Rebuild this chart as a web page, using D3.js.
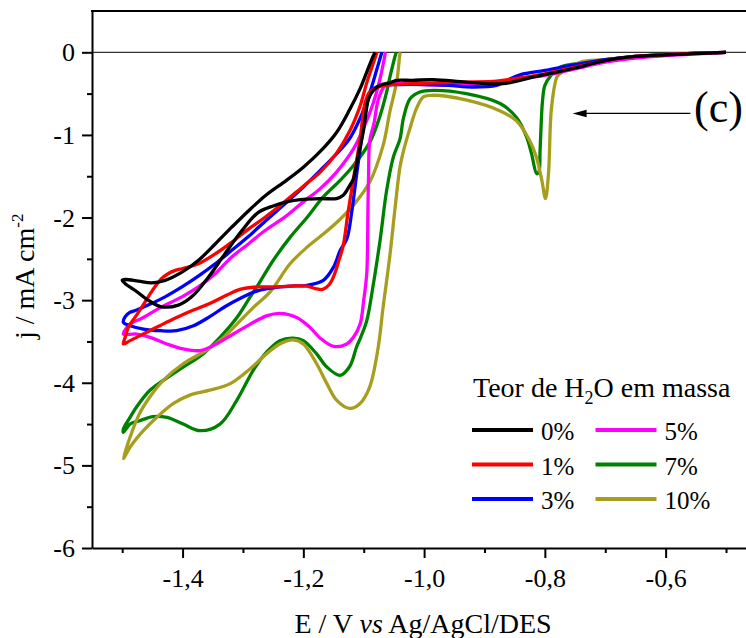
<!DOCTYPE html>
<html>
<head>
<meta charset="utf-8">
<script src="https://cdn.jsdelivr.net/npm/d3@7"></script>
<style>
body { margin: 0; background: #fff; }
svg text { font-family: "Liberation Serif", "Times New Roman", serif; fill: #000; }
</style>
</head>
<body>
<svg width="746" height="638"></svg>
<script>
// ---- data: [E (V), j (mA cm-2)] ----
var cv0 = [[-0.50,0.00],[-0.55,-0.015],[-0.60,-0.03],[-0.65,-0.05],[-0.70,-0.10],[-0.75,-0.19],[-0.78,-0.24],[-0.82,-0.30],[-0.87,-0.38],[-0.93,-0.36],[-0.985,-0.33],[-1.02,-0.34],[-1.045,-0.34],[-1.057,-0.37],[-1.073,-0.40],[-1.084,-0.46],[-1.092,-0.56],[-1.100,-0.93],[-1.109,-1.25],[-1.117,-1.53],[-1.123,-1.61],[-1.134,-1.73],[-1.145,-1.77],[-1.172,-1.77],[-1.200,-1.78],[-1.228,-1.81],[-1.250,-1.86],[-1.275,-1.94],[-1.302,-2.16],[-1.330,-2.44],[-1.357,-2.72],[-1.385,-2.96],[-1.407,-3.06],[-1.435,-3.08],[-1.457,-3.00],[-1.479,-2.88],[-1.495,-2.80],[-1.500,-2.76],
  [-1.495,-2.75],[-1.473,-2.77],[-1.451,-2.79],[-1.429,-2.76],[-1.401,-2.66],[-1.374,-2.52],[-1.346,-2.32],[-1.319,-2.12],[-1.291,-1.92],[-1.262,-1.73],[-1.228,-1.55],[-1.200,-1.39],[-1.172,-1.20],[-1.145,-0.97],[-1.123,-0.69],[-1.106,-0.44],[-1.095,-0.24],[-1.084,-0.04],[-1.081,0.00]];

var cv1 = [[-0.50,0.00],[-0.55,-0.01],[-0.60,-0.03],[-0.65,-0.05],[-0.70,-0.10],[-0.75,-0.18],[-0.80,-0.26],[-0.85,-0.32],[-0.88,-0.35],[-0.93,-0.36],[-0.98,-0.37],[-1.02,-0.38],[-1.05,-0.39],[-1.075,-0.42],[-1.09,-0.48],[-1.098,-0.62],[-1.106,-1.05],[-1.117,-1.53],[-1.126,-1.94],[-1.134,-2.34],[-1.142,-2.54],[-1.148,-2.68],[-1.157,-2.81],[-1.168,-2.87],[-1.180,-2.86],[-1.194,-2.83],[-1.222,-2.83],[-1.250,-2.84],[-1.277,-2.84],[-1.305,-2.87],[-1.330,-2.95],[-1.355,-3.04],[-1.382,-3.12],[-1.410,-3.21],[-1.438,-3.31],[-1.465,-3.41],[-1.487,-3.49],[-1.498,-3.53],
  [-1.495,-3.45],[-1.490,-3.33],[-1.478,-3.20],[-1.468,-3.09],[-1.456,-2.95],[-1.446,-2.84],[-1.435,-2.74],[-1.424,-2.68],[-1.412,-2.64],[-1.401,-2.62],[-1.374,-2.56],[-1.346,-2.44],[-1.319,-2.30],[-1.291,-2.14],[-1.264,-2.00],[-1.236,-1.84],[-1.200,-1.62],[-1.172,-1.45],[-1.145,-1.22],[-1.123,-0.95],[-1.106,-0.65],[-1.095,-0.37],[-1.084,-0.13],[-1.078,0.00]];

var cv3 = [[-0.50,0.00],[-0.55,-0.01],[-0.60,-0.03],[-0.65,-0.05],[-0.70,-0.09],[-0.75,-0.15],[-0.80,-0.22],[-0.84,-0.27],[-0.86,-0.33],[-0.88,-0.40],[-0.92,-0.42],[-0.96,-0.40],[-1.00,-0.39],[-1.04,-0.39],[-1.07,-0.40],[-1.085,-0.45],[-1.093,-0.58],[-1.101,-0.93],[-1.112,-1.49],[-1.120,-1.94],[-1.128,-2.26],[-1.139,-2.40],[-1.150,-2.60],[-1.167,-2.76],[-1.194,-2.82],[-1.222,-2.83],[-1.250,-2.85],[-1.277,-2.89],[-1.305,-2.98],[-1.330,-3.08],[-1.355,-3.20],[-1.382,-3.31],[-1.410,-3.37],[-1.437,-3.37],[-1.465,-3.35],[-1.487,-3.31],[-1.498,-3.27],
  [-1.495,-3.20],[-1.488,-3.15],[-1.476,-3.12],[-1.457,-3.06],[-1.429,-2.96],[-1.401,-2.84],[-1.374,-2.71],[-1.346,-2.56],[-1.319,-2.40],[-1.291,-2.23],[-1.264,-2.05],[-1.236,-1.87],[-1.200,-1.63],[-1.172,-1.43],[-1.145,-1.23],[-1.123,-1.04],[-1.106,-0.80],[-1.090,-0.49],[-1.078,-0.20],[-1.070,0.00]];

var cv5 = [[-0.50,0.00],[-0.55,-0.02],[-0.60,-0.04],[-0.65,-0.07],[-0.70,-0.12],[-0.75,-0.20],[-0.80,-0.28],[-0.85,-0.33],[-0.90,-0.38],[-0.95,-0.40],[-1.00,-0.39],[-1.04,-0.38],[-1.062,-0.38],[-1.075,-0.55],[-1.083,-0.86],[-1.090,-1.07],[-1.092,-1.50],[-1.093,-1.88],[-1.095,-2.68],[-1.100,-3.00],[-1.106,-3.29],[-1.117,-3.45],[-1.128,-3.53],[-1.150,-3.56],[-1.172,-3.46],[-1.189,-3.33],[-1.211,-3.21],[-1.239,-3.16],[-1.261,-3.19],[-1.288,-3.29],[-1.316,-3.41],[-1.344,-3.53],[-1.371,-3.61],[-1.399,-3.59],[-1.426,-3.53],[-1.454,-3.45],[-1.476,-3.41],[-1.498,-3.41],
  [-1.495,-3.36],[-1.487,-3.29],[-1.465,-3.21],[-1.437,-3.09],[-1.401,-2.96],[-1.374,-2.84],[-1.346,-2.68],[-1.319,-2.48],[-1.291,-2.32],[-1.264,-2.16],[-1.228,-1.98],[-1.200,-1.81],[-1.172,-1.65],[-1.145,-1.45],[-1.117,-1.17],[-1.101,-0.93],[-1.084,-0.61],[-1.073,-0.32],[-1.065,-0.04],[-1.064,0.00]];

var cv7 = [[-0.50,0.00],[-0.55,-0.01],[-0.60,-0.03],[-0.65,-0.05],[-0.70,-0.09],[-0.75,-0.14],[-0.775,-0.18],[-0.79,-0.28],[-0.80,-0.40],[-0.804,-0.60],[-0.806,-0.85],[-0.808,-1.20],[-0.810,-1.45],[-0.8135,-1.47],[-0.822,-1.23],[-0.830,-1.03],[-0.847,-0.79],[-0.874,-0.62],[-0.93,-0.50],[-0.985,-0.46],[-1.007,-0.48],[-1.023,-0.56],[-1.034,-0.79],[-1.040,-1.05],[-1.051,-1.27],[-1.062,-1.67],[-1.073,-2.28],[-1.085,-2.85],[-1.095,-3.25],[-1.105,-3.45],[-1.112,-3.57],[-1.123,-3.80],[-1.139,-3.91],[-1.161,-3.81],[-1.178,-3.65],[-1.200,-3.49],[-1.217,-3.46],[-1.239,-3.49],[-1.261,-3.63],[-1.283,-3.85],[-1.310,-4.21],[-1.338,-4.50],[-1.371,-4.58],[-1.399,-4.50],[-1.426,-4.42],[-1.449,-4.41],[-1.471,-4.46],[-1.487,-4.50],[-1.498,-4.60],
  [-1.498,-4.56],[-1.487,-4.42],[-1.476,-4.29],[-1.454,-4.09],[-1.432,-3.97],[-1.399,-3.81],[-1.366,-3.65],[-1.338,-3.45],[-1.310,-3.21],[-1.288,-2.96],[-1.277,-2.84],[-1.250,-2.52],[-1.222,-2.24],[-1.194,-2.00],[-1.167,-1.75],[-1.139,-1.55],[-1.117,-1.37],[-1.090,-1.09],[-1.073,-0.77],[-1.062,-0.48],[-1.056,-0.28],[-1.047,-0.02],[-1.046,0.00]];

var cv10 = [[-0.50,0.00],[-0.55,-0.01],[-0.60,-0.03],[-0.65,-0.05],[-0.70,-0.09],[-0.742,-0.12],[-0.775,-0.26],[-0.780,-0.30],[-0.789,-0.67],[-0.794,-1.47],[-0.799,-1.77],[-0.805,-1.55],[-0.814,-1.27],[-0.825,-1.07],[-0.847,-0.83],[-0.874,-0.71],[-0.929,-0.58],[-0.985,-0.52],[-1.001,-0.54],[-1.012,-0.67],[-1.023,-0.91],[-1.034,-1.19],[-1.040,-1.39],[-1.048,-1.88],[-1.057,-2.48],[-1.068,-3.09],[-1.076,-3.57],[-1.090,-4.05],[-1.106,-4.25],[-1.123,-4.31],[-1.145,-4.21],[-1.161,-4.01],[-1.178,-3.77],[-1.200,-3.53],[-1.217,-3.48],[-1.239,-3.53],[-1.261,-3.65],[-1.288,-3.83],[-1.321,-4.01],[-1.355,-4.09],[-1.388,-4.15],[-1.415,-4.25],[-1.443,-4.42],[-1.465,-4.58],[-1.487,-4.78],[-1.498,-4.92],
  [-1.487,-4.66],[-1.471,-4.37],[-1.454,-4.17],[-1.432,-3.97],[-1.399,-3.77],[-1.366,-3.63],[-1.338,-3.49],[-1.310,-3.29],[-1.283,-3.09],[-1.255,-2.90],[-1.222,-2.56],[-1.194,-2.36],[-1.167,-2.20],[-1.139,-2.02],[-1.117,-1.85],[-1.090,-1.57],[-1.068,-1.13],[-1.057,-0.73],[-1.045,-0.34],[-1.040,-0.02],[-1.039,0.00]];

var labels = ["0%", "1%", "3%", "5%", "7%", "10%"];
var colors = ["#000000", "#ff0000", "#0000ff", "#ff00ff", "#008000", "#a89e1e"];
var curves = [cv0, cv1, cv3, cv5, cv7, cv10];

var xMajor = [-1.4, -1.2, -1.0, -0.8, -0.6];
var xMinor = [-1.5, -1.3, -1.1, -0.9, -0.7, -0.5];
var yMajor = [-6, -5, -4, -3, -2, -1, 0];
var yMinor = [-5.5, -4.5, -3.5, -2.5, -1.5, -0.5];

// annotation arrow "(c)" in data units
var arrowFrom = [-0.559, -0.74], arrowTo = [-0.754, -0.74];

var svg = d3.select("svg");
var plotLeft = 92, plotTop = 11, plotBottom = 548;

var x = d3.scaleLinear().domain([-1.55, -0.45]).range([plotLeft, 756.2]);
var y = d3.scaleLinear().domain([-6, 0.5]).range([plotBottom, plotTop]);

// zero line
svg.append("line")
    .attr("x1", plotLeft).attr("x2", 746)
    .attr("y1", y(0)).attr("y2", y(0))
    .attr("stroke", "#333").attr("stroke-width", 1.2);

// curves, black last so it ends up on top
var line = d3.line()
    .x(function(d) { return x(d[0]); })
    .y(function(d) { return y(d[1]); })
    .curve(d3.curveCatmullRom.alpha(0.5));

var order = [4, 5, 3, 2, 1, 0];
svg.append("g").selectAll("path")
    .data(order)
  .enter().append("path")
    .attr("d", function(i) { return line(curves[i]); })
    .attr("fill", "none")
    .attr("stroke", function(i) { return colors[i]; })
    .attr("stroke-width", 3.3)
    .attr("stroke-linejoin", "round");

// axes
function fmtX(d) { return d.toFixed(1).replace(".", ","); }

var xAxis = svg.append("g").attr("transform", "translate(0," + plotBottom + ")")
    .call(d3.axisBottom(x).tickValues(xMajor).tickSize(10).tickSizeOuter(0).tickFormat(fmtX));
svg.append("g").attr("transform", "translate(0," + plotBottom + ")")
    .call(d3.axisBottom(x).tickValues(xMinor).tickSize(5).tickSizeOuter(0).tickFormat(""))
    .select(".domain").remove();

var yAxis = svg.append("g").attr("transform", "translate(" + plotLeft + ",0)")
    .call(d3.axisLeft(y).tickValues(yMajor).tickSize(10).tickSizeOuter(0).tickFormat(function(d) { return String(d); }));
svg.append("g").attr("transform", "translate(" + plotLeft + ",0)")
    .call(d3.axisLeft(y).tickValues(yMinor).tickSize(5).tickSizeOuter(0).tickFormat(""))
    .select(".domain").remove();

svg.selectAll(".tick line").attr("stroke", "#000").attr("stroke-width", 2);
svg.selectAll(".domain").attr("stroke", "#000").attr("stroke-width", 2);
xAxis.selectAll("text").attr("font-size", 26).attr("y", 39).attr("dy", 0)
    .style("font-family", "Liberation Serif");
yAxis.selectAll("text").attr("font-size", 26).attr("x", -17).attr("dy", "0.33em")
    .style("font-family", "Liberation Serif");

// top frame line
svg.append("line")
    .attr("x1", plotLeft - 1).attr("x2", 746)
    .attr("y1", plotTop).attr("y2", plotTop)
    .attr("stroke", "#000").attr("stroke-width", 2);

// axis titles
var xt = svg.append("text")
    .attr("x", 423).attr("y", 633)
    .attr("text-anchor", "middle").attr("font-size", 28);
xt.append("tspan").text("E / V ");
xt.append("tspan").attr("font-style", "italic").text("vs");
xt.append("tspan").text(" Ag/AgCl/DES");

var yt = svg.append("text")
    .attr("transform", "translate(34,339) rotate(-90)")
    .attr("font-size", 28);
yt.append("tspan").text("j / mA cm");
yt.append("tspan").attr("font-size", 17).attr("dy", -11).text("-2");

// annotation
svg.append("line")
    .attr("x1", x(arrowFrom[0])).attr("y1", y(arrowFrom[1]))
    .attr("x2", x(arrowTo[0]) + 12).attr("y2", y(arrowTo[1]))
    .attr("stroke", "#000").attr("stroke-width", 1.2);
svg.append("path")
    .attr("d", "M" + x(arrowTo[0]) + "," + y(arrowTo[1]) +
               "l14,-3.8l0,7.6z")
    .attr("fill", "#000");
svg.append("text")
    .attr("x", 694).attr("y", 122)
    .attr("font-size", 44).text("(c)");

// legend
var lg = svg.append("g");
var lt = lg.append("text").attr("x", 473).attr("y", 397).attr("font-size", 28);
lt.append("tspan").text("Teor de H");
lt.append("tspan").attr("font-size", 18).attr("dy", 7).text("2");
lt.append("tspan").attr("dy", -7).text("O em massa");

var item = lg.selectAll("g.item")
    .data(labels)
  .enter().append("g")
    .attr("class", "item")
    .attr("transform", function(d, i) {
      return "translate(" + (i < 3 ? 472 : 595.5) + "," + (430 + (i % 3) * 34.5) + ")";
    });
item.append("line")
    .attr("x1", 0).attr("x2", 61)
    .attr("stroke", function(d, i) { return colors[i]; })
    .attr("stroke-width", 4);
item.append("text")
    .attr("x", 69).attr("y", 10)
    .attr("font-size", 25)
    .text(function(d) { return d; });
</script>
</body>
</html>
